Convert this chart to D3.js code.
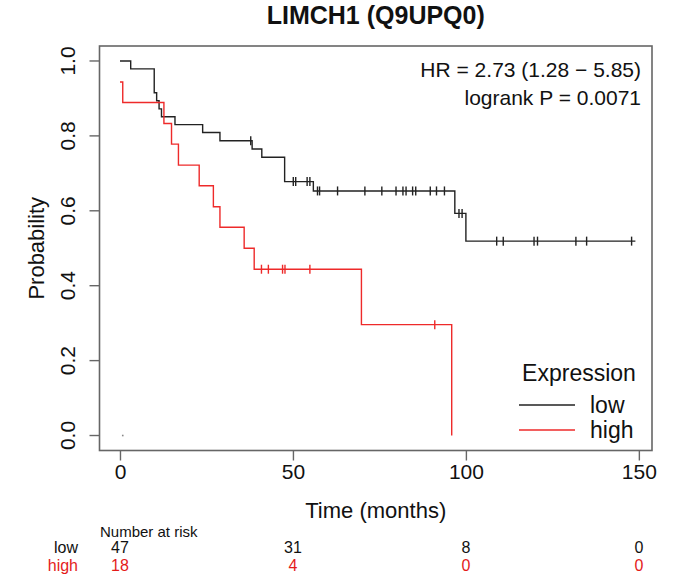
<!DOCTYPE html>
<html><head><meta charset="utf-8">
<script src="https://cdn.jsdelivr.net/npm/d3@7"></script>
<style>body{margin:0;background:#fff}svg{display:block}text{font-family:"Liberation Sans",Arial,Helvetica,sans-serif}</style>
</head><body><svg id="c" width="689" height="581"></svg>
<script>
const title = "LIMCH1 (Q9UPQ0)";
const xTicks = [0, 50, 100, 150];
const yTicks = [0, 0.2, 0.4, 0.6, 0.8, 1.0];
// low expression group
const lowTimes = [0, 3.1, 9.9, 10.6, 11.3, 12.0, 15.9, 23.9, 28.9, 38.2, 41.0, 47.6, 55.9, 96.8, 100.0, 149.0];
const lowSurv  = [1.0, 0.979, 0.915, 0.894, 0.872, 0.851, 0.830, 0.809, 0.787, 0.765, 0.743, 0.678, 0.653, 0.593, 0.519, 0.519];
const lowCensor = [37.8, 50.1, 50.8, 54.1, 54.9, 57.1, 57.7, 62.9, 70.8, 75.7, 79.8, 81.8, 82.7, 84.6, 85.5, 89.7, 91.5, 93.8, 98.0, 98.9, 108.9, 110.8, 119.7, 120.7, 131.8, 134.9, 147.9];
// high expression group
const highTimes = [0, 0.8, 12.7, 14.9, 16.9, 22.9, 27.0, 28.9, 35.9, 38.8, 69.8, 95.9];
const highSurv  = [0.944, 0.889, 0.833, 0.778, 0.722, 0.667, 0.611, 0.556, 0.500, 0.444, 0.296, 0.0];
const highCensor = [40.9, 42.9, 47.0, 47.7, 54.9, 91.0];
const strayDot = [{t: 0.8, s: 0}];
const riskGroups = ["low", "high"];
const riskLow = [47, 31, 8, 0];
const riskHigh = [18, 4, 0, 0];
const hrText = "HR = 2.73 (1.28 \u2212 5.85)";
const pText = "logrank P = 0.0071";

const svg = d3.select("#c");
const L = 99.5, R = 652, T = 46, B = 450.5;
const x = d3.scaleLinear().domain([-5.92, 153.8]).range([L, R]);
const y = d3.scaleLinear().domain([-0.04, 1.04]).range([B, T]);
const red = "#ee2a2a", dark = "#222";
const tickFS = 21, labFS = 22, legFS = 23, hrFS = 21, riskFS = 16;

// box
svg.append("rect").attr("x", L).attr("y", T).attr("width", R - L).attr("height", B - T)
  .attr("fill", "none").attr("stroke", "#666").attr("stroke-width", 1.6);

// axes
const xa = svg.append("g").attr("transform", `translate(0,${B})`)
  .call(d3.axisBottom(x).tickValues(xTicks).tickSize(10).tickPadding(4).tickFormat(d3.format("d")));
xa.select(".domain").remove();
xa.selectAll("line").attr("stroke", "#666").attr("stroke-width", 1.4);
xa.selectAll("text").attr("font-size", tickFS).attr("fill", "#111").attr("font-family", "Liberation Sans, Arial");

const ya = svg.append("g").attr("transform", `translate(${L},0)`)
  .call(d3.axisLeft(y).tickValues(yTicks).tickSize(10).tickFormat(d3.format(".1f")));
ya.select(".domain").remove();
ya.selectAll("line").attr("stroke", "#666").attr("stroke-width", 1.4);
ya.selectAll("text").attr("font-size", tickFS).attr("fill", "#111").attr("font-family", "Liberation Sans, Arial")
  .attr("text-anchor", "middle").attr("dy", 0).attr("x", 0)
  .attr("transform", d => `translate(-25,${y(d)}) rotate(-90)`).attr("y", 0);
ya.selectAll(".tick").attr("transform", null);
ya.selectAll(".tick line").attr("transform", d => `translate(0,${y(d)})`);

// titles
svg.append("text").attr("x", (L + R) / 2).attr("y", 24).attr("text-anchor", "middle")
  .attr("font-size", 25).attr("font-weight", "bold").attr("fill", "#111").text(title);
svg.append("text").attr("x", (L + R) / 2).attr("y", 518).attr("text-anchor", "middle")
  .attr("font-size", labFS).attr("fill", "#111").text("Time (months)");
svg.append("text").attr("transform", `translate(44,${(T + B) / 2}) rotate(-90)`).attr("text-anchor", "middle")
  .attr("font-size", labFS).attr("fill", "#111").text("Probability");

// curves
const line = d3.line().x(d => x(d[0])).y(d => y(d[1])).curve(d3.curveStepAfter);
function stepAt(times, surv, t) { let v = surv[0]; for (let i = 0; i < times.length; i++) if (times[i] <= t) v = surv[i]; return v; }
function drawGroup(times, surv, censor, col) {
  svg.append("path").attr("d", line(times.map((t, i) => [t, surv[i]])))
    .attr("fill", "none").attr("stroke", col).attr("stroke-width", 1.4);
  svg.append("g").selectAll("line").data(censor).join("line")
    .attr("x1", d => x(d)).attr("x2", d => x(d))
    .attr("y1", d => y(stepAt(times, surv, d)) - 4.5).attr("y2", d => y(stepAt(times, surv, d)) + 4.5)
    .attr("stroke", col).attr("stroke-width", 1.4);
}
drawGroup(lowTimes, lowSurv, lowCensor, dark);
drawGroup(highTimes, highSurv, highCensor, red);
svg.selectAll(".dot").data(strayDot).join("rect").attr("class", "dot")
  .attr("x", d => x(d.t) - 0.8).attr("y", d => y(d.s) - 0.8).attr("width", 1.6).attr("height", 1.6).attr("fill", "#888");

// stats text
svg.append("text").attr("x", 641).attr("y", 77).attr("text-anchor", "end").attr("font-size", hrFS).attr("fill", "#111").text(hrText);
svg.append("text").attr("x", 641).attr("y", 105).attr("text-anchor", "end").attr("font-size", hrFS).attr("fill", "#111").text(pText);

// legend
svg.append("text").attr("x", 579).attr("y", 381).attr("text-anchor", "middle").attr("font-size", legFS).attr("fill", "#111").text("Expression");
const legItems = [{name: "low", col: dark}, {name: "high", col: red}];
legItems.forEach((d, i) => {
  const yy = 405 + i * 25;
  svg.append("line").attr("x1", 519).attr("x2", 575).attr("y1", yy).attr("y2", yy).attr("stroke", d.col).attr("stroke-width", 1.4);
  svg.append("text").attr("x", 590).attr("y", yy + 8).attr("font-size", legFS).attr("fill", "#111").text(d.name);
});

// number at risk
svg.append("text").attr("x", 100).attr("y", 537).attr("font-size", 15).attr("fill", "#111").text("Number at risk");
const riskRows = [{vals: riskLow, col: "#111"}, {vals: riskHigh, col: "#e41a1a"}];
riskRows.forEach((r, i) => {
  const yy = 553 + i * 18;
  svg.append("text").attr("x", 78).attr("y", yy).attr("text-anchor", "end").attr("font-size", riskFS).attr("fill", r.col).text(riskGroups[i]);
  svg.append("g").selectAll("text").data(r.vals).join("text")
    .attr("x", (d, j) => x(xTicks[j])).attr("y", yy).attr("text-anchor", "middle")
    .attr("font-size", riskFS).attr("fill", r.col).text(d => d);
});
</script></body></html>
